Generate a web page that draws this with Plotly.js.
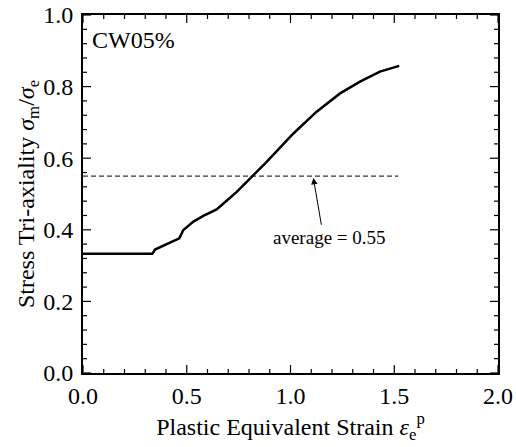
<!DOCTYPE html>
<html>
<head>
<meta charset="utf-8">
<script src="https://cdn.plot.ly/plotly-3.0.1.min.js"></script>
<style>html,body{margin:0;padding:0;background:#fff;}#chart{width:516px;height:447px;}</style>
</head>
<body>
<div id="chart"></div>
<script>
// Curve: plastic equivalent strain vs stress triaxiality
const strain = [0.0, 0.10, 0.20, 0.334, 0.347, 0.403, 0.464, 0.483, 0.532, 0.580, 0.644, 0.692, 0.741, 0.789, 0.885, 1.014, 1.126, 1.239, 1.335, 1.431, 1.524];
const triax  = [0.333, 0.333, 0.333, 0.333, 0.345, 0.359, 0.376, 0.399, 0.423, 0.439, 0.457, 0.481, 0.506, 0.534, 0.590, 0.669, 0.730, 0.781, 0.814, 0.842, 0.858];
// Average line
const avgX = [0.0, 1.52];
const avgY = [0.55, 0.55];
const avgLabel = "average = 0.55";
const panelLabel = "CW05%";
const xRange = [0, 2.0];
const yRange = [0, 1.0];
// Tick positions
const xMajor = [0, 0.5, 1.0, 1.5, 2.0];
const xMinor = [0.1, 0.2, 0.3, 0.4, 0.6, 0.7, 0.8, 0.9, 1.1, 1.2, 1.3, 1.4, 1.6, 1.7, 1.8, 1.9];
const yMajor = [0, 0.2, 0.4, 0.6, 0.8, 1.0];
const yMinor = [0.04, 0.08, 0.12, 0.16, 0.24, 0.28, 0.32, 0.36, 0.44, 0.48, 0.52, 0.56, 0.64, 0.68, 0.72, 0.76, 0.84, 0.88, 0.92, 0.96];

const FAM = "Liberation Serif";
const MAJ = 8, MIN = 4;

const traces = [
  {x: strain, y: triax, mode: "lines", line: {color: "#000", width: 2.5}, hoverinfo: "skip"},
  {x: avgX, y: avgY, mode: "lines", line: {color: "#000", width: 1, dash: "5px,3px"}, hoverinfo: "skip"}
];

// inward tick marks on all four sides, positioned by the axes
const shapes = [];
function xTick(v, len) {
  shapes.push({type: "line", xref: "x", yref: "y", x0: v, x1: v, ysizemode: "pixel", yanchor: yRange[0], y0: 0, y1: len, line: {color: "#000", width: 1.2}});
  shapes.push({type: "line", xref: "x", yref: "y", x0: v, x1: v, ysizemode: "pixel", yanchor: yRange[1], y0: 0, y1: -len, line: {color: "#000", width: 1.2}});
}
function yTick(v, len) {
  shapes.push({type: "line", xref: "x", yref: "y", y0: v, y1: v, xsizemode: "pixel", xanchor: xRange[0], x0: 0, x1: len, line: {color: "#000", width: 1.2}});
  shapes.push({type: "line", xref: "x", yref: "y", y0: v, y1: v, xsizemode: "pixel", xanchor: xRange[1], x0: 0, x1: -len, line: {color: "#000", width: 1.2}});
}
xMajor.forEach(v => xTick(v, MAJ));
xMinor.forEach(v => xTick(v, MIN));
yMajor.forEach(v => yTick(v, MAJ));
yMinor.forEach(v => yTick(v, MIN));

const layout = {
  width: 516, height: 447,
  margin: {l: 83, r: 18, t: 15, b: 74},
  paper_bgcolor: "#fff", plot_bgcolor: "#fff",
  showlegend: false,
  font: {family: FAM, color: "#000", size: 24},
  shapes: shapes,
  xaxis: {
    range: xRange, tickmode: "array", tickvals: xMajor, tickformat: ".1f", ticks: "",
    showgrid: false, zeroline: false, showline: true, linecolor: "#000", linewidth: 1.8, mirror: true,
    tickfont: {family: FAM, size: 24, color: "#000"},
    title: {text: "Plastic Equivalent Strain <i>ε</i><sub>e</sub><sup>p</sup>", font: {family: FAM, size: 24, color: "#000"}, standoff: 10}
  },
  yaxis: {
    range: yRange, tickmode: "array", tickvals: yMajor, tickformat: ".1f", ticks: "",
    showgrid: false, zeroline: false, showline: true, linecolor: "#000", linewidth: 1.8, mirror: true,
    tickfont: {family: FAM, size: 24, color: "#000"}, ticklabelstandoff: 3,
    title: {text: "Stress Tri-axiality <i>σ</i><sub>m</sub>/<i>σ</i><sub>e</sub>", font: {family: FAM, size: 24, color: "#000"}, standoff: 2}
  },
  annotations: [
    {x: 1.11, y: 0.545, ax: 1.15, ay: 0.41, xref: "x", yref: "y", axref: "x", ayref: "y",
     text: "", showarrow: true, arrowhead: 2, arrowsize: 1.3, arrowwidth: 1, arrowcolor: "#000"},
    {x: 1.19, y: 0.378, xref: "x", yref: "y", text: avgLabel, showarrow: false,
     font: {family: FAM, size: 19, color: "#000"}},
    {x: 0.035, y: 0.93, xref: "x", yref: "y", xanchor: "left", text: panelLabel, showarrow: false,
     font: {family: FAM, size: 24, color: "#000"}}
  ]
};

Plotly.newPlot("chart", traces, layout, {displayModeBar: false});
</script>
</body>
</html>
